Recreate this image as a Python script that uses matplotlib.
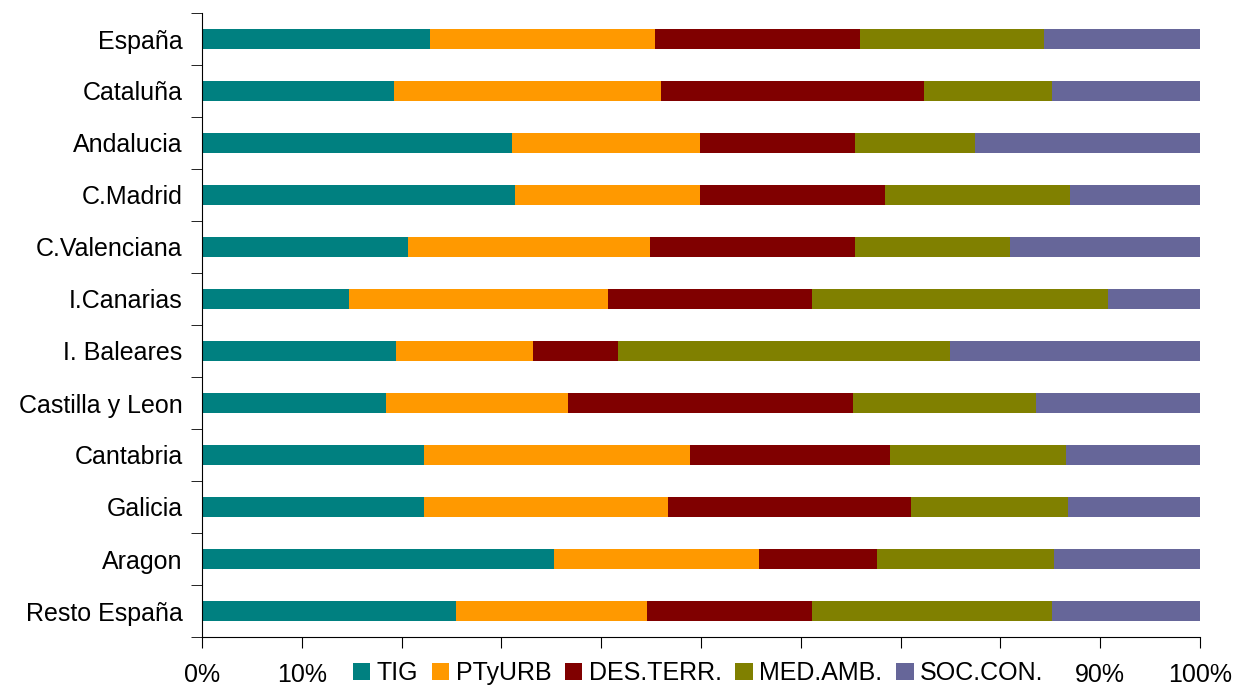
import matplotlib.pyplot as plt
import numpy as np
from matplotlib.ticker import FixedLocator

plt.rcParams['font.family'] = ['Liberation Sans', 'DejaVu Sans']

# datos (% por region)
regions = ['España', 'Cataluña', 'Andalucia', 'C.Madrid', 'C.Valenciana',
           'I.Canarias', 'I. Baleares', 'Castilla y Leon', 'Cantabria',
           'Galicia', 'Aragon', 'Resto España']
tig = [22.8, 19.2, 31.1, 31.4, 20.6, 14.7, 19.4, 18.4, 22.2, 22.2, 35.3, 25.5]
ptyurb = [22.6, 26.8, 18.8, 18.5, 24.3, 26.0, 13.8, 18.3, 26.7, 24.5, 20.5, 19.1]
des_terr = [20.5, 26.3, 15.5, 18.5, 20.5, 20.4, 8.5, 28.5, 20.0, 24.3, 11.8, 16.5]
med_amb = [18.5, 12.9, 12.1, 18.6, 15.6, 29.7, 33.2, 18.4, 17.7, 15.8, 17.8, 24.1]
soc_con = [15.6, 14.8, 22.5, 13.0, 19.0, 9.2, 25.1, 16.4, 13.4, 13.2, 14.6, 14.8]

# los rotulos 20%-80% quedan tapados por la leyenda en el original
xticks = list(range(0, 101, 10))
xlabels = ['0%', '10%', '', '', '', '', '', '', '', '90%', '100%']

series = [('TIG', tig, '#008080'),
          ('PTyURB', ptyurb, '#FF9900'),
          ('DES.TERR.', des_terr, '#800000'),
          ('MED.AMB.', med_amb, '#808000'),
          ('SOC.CON.', soc_con, '#666699')]

fig = plt.figure(figsize=(12.38, 6.87), dpi=100)
ax = fig.add_axes([202 / 1238, 1 - 637 / 687, 998 / 1238, 624 / 687])

y = np.arange(len(regions))[::-1]
left = np.zeros(len(regions))
for name, vals, col in series:
    vals = np.array(vals)
    ax.barh(y, vals, left=left, height=0.4, color=col, label=name)
    left += vals

ax.set_xlim(0, 100)
ax.set_ylim(-0.5, len(regions) - 0.5)
ax.set_xticks(xticks)
ax.set_xticklabels(xlabels)
ax.set_yticks(y)
ax.set_yticklabels(regions)
ax.yaxis.set_minor_locator(FixedLocator(np.arange(-0.5, len(regions), 1)))
ax.tick_params(axis='y', which='major', length=0, pad=14, labelsize=18)
ax.tick_params(axis='y', which='minor', length=8, direction='out')
ax.tick_params(axis='x', length=8, direction='out', pad=11, labelsize=18)
for s in ['top', 'right']:
    ax.spines[s].set_visible(False)

leg = fig.legend(loc='center', bbox_to_anchor=(698 / 1238, 1 - 673 / 687), ncol=5,
                 frameon=False, fontsize=18, handlelength=0.7, handleheight=0.7,
                 handletextpad=0.25, columnspacing=0.55, borderpad=0.1)

fig.savefig('out.png', dpi=100)
